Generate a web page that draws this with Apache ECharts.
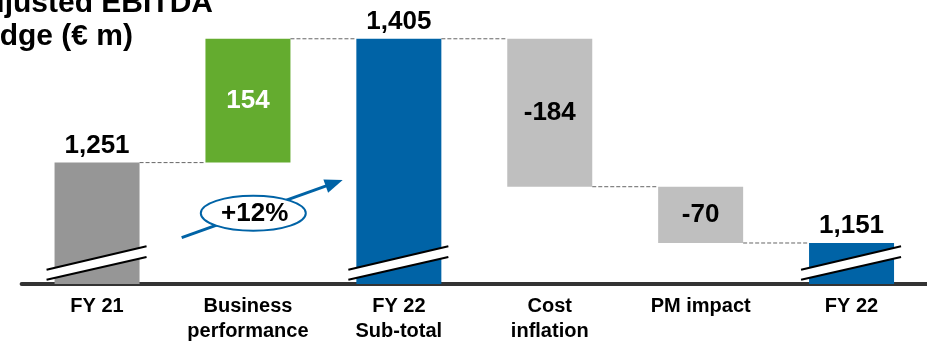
<!DOCTYPE html>
<html>
<head>
<meta charset="utf-8">
<script src="https://cdn.jsdelivr.net/npm/echarts@6/dist/echarts.min.js"></script>
<style>
  html, body { margin: 0; padding: 0; background: #fff; }
  #chart { width: 927px; height: 344px; }
</style>
</head>
<body>
<div id="chart"></div>
<script>
// Adjusted EBITDA bridge, FY 21 -> FY 22 (EUR m)
const categories = ['FY 21', 'Business\nperformance', 'FY 22\nSub-total', 'Cost\ninflation', 'PM impact', 'FY 22'];
const values = [1251, 154, 1405, -184, -70, 1151];
const kinds = ['total', 'delta', 'total', 'delta', 'delta', 'total'];
const barColors = ['#969696', '#64AC2F', '#0063A6', '#BFBFBF', '#BFBFBF', '#0063A6'];
const labelColors = ['#000', '#fff', '#000', '#000', '#000', '#000'];
const titleLines = ['Adjusted EBITDA', 'bridge (€ m)'];
const growthText = '+12%';
const axisBreak = 1100;   // value axis starts here (broken axis)
const axisTop = 1450;

const FONT = '"Liberation Sans", Arial, Helvetica, sans-serif';
const BLUE = '#0063A6';

// Build waterfall segments: [index, low, high, level carried to next bar]
const segments = [];
let level = 0;
values.forEach((v, i) => {
  if (kinds[i] === 'total') {
    level = v;
    segments.push([i, axisBreak, v, level]);
  } else {
    const start = level;
    level = start + v;
    segments.push([i, Math.min(start, level), Math.max(start, level), level]);
  }
});

function fmtLabel(i) {
  const v = values[i];
  if (kinds[i] === 'total') return v.toLocaleString('en-US');
  return String(v);
}

const BAR_W = 85;

function renderItem(params, api) {
  const i = api.value(0);
  const low = api.value(1);
  const high = api.value(2);
  const carry = api.value(3);
  const pTop = api.coord([i, high]);
  const pLow = api.coord([i, low]);
  const L = pTop[0] - BAR_W / 2;
  const R = pTop[0] + BAR_W / 2;
  const children = [];

  children.push({
    type: 'rect',
    shape: { x: L, y: pTop[1], width: BAR_W, height: pLow[1] - pTop[1] },
    style: { fill: barColors[i] }
  });

  if (kinds[i] === 'total') {
    const B = pLow[1];
    // axis-break marker across the bar foot
    children.push({
      type: 'polygon',
      shape: { points: [[L - 8, B - 14.3], [R + 7, B - 37.7], [R + 7, B - 27], [L - 8, B - 4.3]] },
      style: { fill: '#fff' }
    });
    children.push({
      type: 'line',
      shape: { x1: L - 8, y1: B - 14.3, x2: R + 7, y2: B - 37.7 },
      style: { stroke: '#000', lineWidth: 2 }
    });
    children.push({
      type: 'line',
      shape: { x1: L - 8, y1: B - 4.3, x2: R + 7, y2: B - 27 },
      style: { stroke: '#000', lineWidth: 2 }
    });
    children.push({
      type: 'text',
      style: {
        text: fmtLabel(i), x: pTop[0], y: pTop[1] - 4,
        align: 'center', verticalAlign: 'bottom',
        fill: labelColors[i], font: 'bold 26px ' + FONT
      }
    });
  } else {
    children.push({
      type: 'text',
      style: {
        text: fmtLabel(i), x: pTop[0], y: (pTop[1] + pLow[1]) / 2,
        align: 'center', verticalAlign: 'middle',
        fill: labelColors[i], font: 'bold 26px ' + FONT
      }
    });
  }

  // dashed connector to the next bar
  if (i < values.length - 1) {
    const a = api.coord([i, carry]);
    const b = api.coord([i + 1, carry]);
    children.push({
      type: 'line',
      shape: { x1: R, y1: a[1], x2: b[0] - BAR_W / 2, y2: b[1] },
      style: { stroke: '#666', lineWidth: 1, lineDash: [4, 2] }
    });
  }

  return { type: 'group', children: children };
}

const chart = echarts.init(document.getElementById('chart'), null, { renderer: 'canvas' });

// growth annotation: arrow with an oval tag
const arrowStart = [181.7, 237.7];
const arrowTip = [342.7, 180];
const ang = Math.atan2(arrowTip[1] - arrowStart[1], arrowTip[0] - arrowStart[0]);
const headLen = 18, headHalf = 7;
const ux = Math.cos(ang), uy = Math.sin(ang);
const baseX = arrowTip[0] - ux * headLen, baseY = arrowTip[1] - uy * headLen;
const head = [
  arrowTip,
  [baseX - uy * headHalf, baseY + ux * headHalf],
  [baseX + uy * headHalf, baseY - ux * headHalf]
];

chart.setOption({
  animation: false,
  backgroundColor: '#fff',
  grid: { left: 21.6, right: -5.4, top: 2.6, bottom: 58, containLabel: false },
  xAxis: {
    type: 'category',
    data: categories,
    axisLine: { show: true, lineStyle: { color: '#333', width: 4 } },
    axisTick: { show: false },
    axisLabel: {
      interval: 0, margin: 10,
      fontSize: 20, fontWeight: 'bold', color: '#000',
      lineHeight: 25, fontFamily: FONT
    },
    splitLine: { show: false }
  },
  yAxis: {
    type: 'value', min: axisBreak, max: axisTop,
    show: false, splitLine: { show: false }
  },
  series: [{
    type: 'custom',
    renderItem: renderItem,
    clip: false,
    encode: { x: 0, y: [1, 2] },
    data: segments
  }],
  graphic: [
    {
      type: 'text', x: 213, y: 3.5, z: 10,
      style: { text: titleLines[0], align: 'right', verticalAlign: 'middle', fill: '#000', font: 'bold 30px ' + FONT }
    },
    {
      type: 'text', x: 133, y: 36.5, z: 10,
      style: { text: titleLines[1], align: 'right', verticalAlign: 'middle', fill: '#000', font: 'bold 30px ' + FONT }
    },
    {
      type: 'line', z: 10,
      shape: { x1: arrowStart[0], y1: arrowStart[1], x2: baseX + ux * 2, y2: baseY + uy * 2 },
      style: { stroke: BLUE, lineWidth: 3 }
    },
    {
      type: 'polygon', z: 10,
      shape: { points: head },
      style: { fill: BLUE }
    },
    {
      type: 'ellipse', z: 11,
      shape: { cx: 253.3, cy: 213.3, rx: 52.5, ry: 17.5 },
      style: { fill: '#fff', stroke: BLUE, lineWidth: 2 }
    },
    {
      type: 'text', z: 12, x: 254.7, y: 214,
      style: { text: growthText, align: 'center', verticalAlign: 'middle', fill: '#000', font: 'bold 26px ' + FONT }
    }
  ]
});
</script>
</body>
</html>
